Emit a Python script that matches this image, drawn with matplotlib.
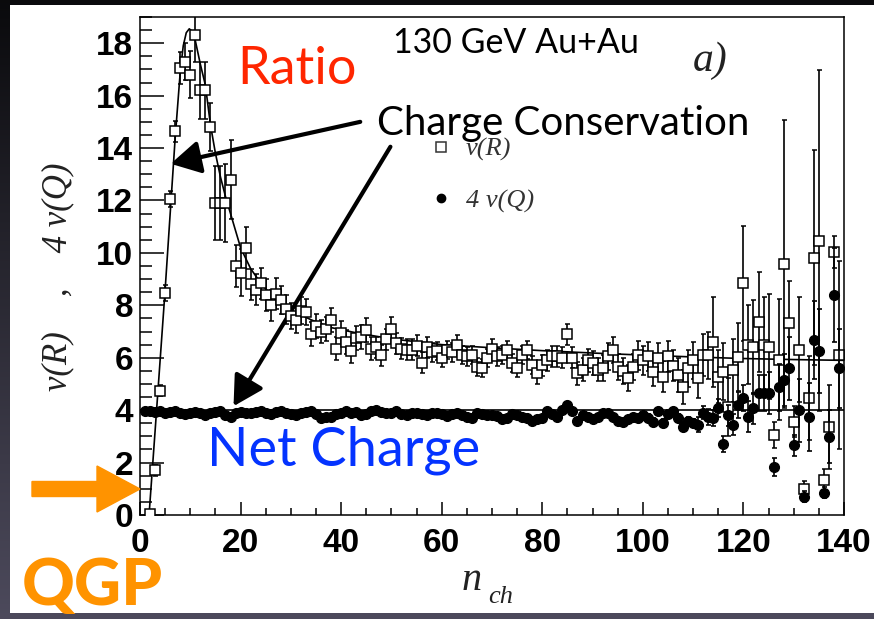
import numpy as np
import matplotlib
matplotlib.use("Agg")
import matplotlib.pyplot as plt
from matplotlib.patches import Rectangle, FancyArrow
from matplotlib.lines import Line2D
from matplotlib.ticker import MultipleLocator

# ---------------------------------------------------------
# Data
# ---------------------------------------------------------
n_R = list(range(2, 140))
v_R = [
    0.05, 1.7, 4.75, 8.47, 12.05, 14.65, 17.05, 17.3, 16.8, 18.3,
    16.2, 16.2, 14.8, 11.9, 11.9, 11.9, 12.8, 9.5, 9.25, 10.2,
    8.8, 8.6, 8.84, 8.4, 8.0, 8.45, 8.2, 7.85, 7.6, 7.45,
    7.8, 7.75, 6.9, 7.2, 7.0, 7.1, 7.45, 6.35, 6.95, 6.6,
    6.25, 6.75, 6.8, 7.05, 6.35, 6.4, 6.1, 6.7, 7.1, 6.55,
    6.35, 6.3, 6.3, 6.45, 5.8, 6.4, 6.2, 6.25, 5.98, 6.3,
    6.2, 6.5, 6.1, 6.05, 6.1, 5.65, 5.6, 6.0, 6.35, 6.05,
    6.1, 6.3, 5.8, 5.6, 6.1, 6.3, 5.72, 5.4, 5.72, 5.9,
    6.05, 6.05, 6.0, 6.9, 6.0, 5.4, 5.55, 5.9, 5.8, 5.55,
    5.6, 6.05, 6.3, 5.65, 5.5, 5.22, 5.65, 6.1, 5.9, 6.05,
    5.47, 5.98, 5.28, 6.05, 5.7, 5.34, 4.9, 5.6, 5.9, 5.22,
    6.1, 6.1, 6.6, 5.28, 5.47, 4.13, 5.53, 6.04, 8.84, 6.5,
    6.4, 7.36, 6.5, 6.42, 3.05, 5.93, 9.57, 7.32, 3.56, 6.3,
    1.0, 4.45, 9.82, 10.46, 1.34, 3.35, 10.03, 6.1,
]
v_R_err = [
    0.1, 0.2, 0.2, 0.3, 0.3, 0.4, 0.6, 0.7, 0.9, 1.0,
    1.1, 1.1, 0.9, 1.4, 1.4, 1.5, 1.5, 0.8, 0.9, 0.8,
    0.6, 0.6, 0.6, 0.6, 0.6, 0.6, 0.55, 0.55, 0.5, 0.5,
    0.5, 0.5, 0.45, 0.45, 0.45, 0.45, 0.45, 0.45, 0.45, 0.45,
    0.45, 0.45, 0.45, 0.45, 0.45, 0.4, 0.4, 0.4, 0.45, 0.4,
    0.4, 0.4, 0.4, 0.4, 0.4, 0.4, 0.35, 0.35, 0.35, 0.35,
    0.35, 0.35, 0.35, 0.35, 0.35, 0.35, 0.35, 0.35, 0.35, 0.35,
    0.35, 0.35, 0.35, 0.35, 0.35, 0.35, 0.35, 0.4, 0.4, 0.4,
    0.4, 0.4, 0.4, 0.4, 0.4, 0.45, 0.45, 0.45, 0.45, 0.45,
    0.5, 0.5, 0.5, 0.5, 0.5, 0.5, 0.5, 0.55, 0.55, 0.55,
    0.55, 0.6, 0.6, 0.6, 0.6, 0.65, 0.65, 0.7, 0.7, 0.75,
    0.8, 0.9, 1.7, 1.0, 1.1, 1.1, 1.2, 1.3, 2.2, 1.5,
    1.8, 1.9, 1.8, 2.0, 0.5, 2.3, 5.5, 1.6, 0.6, 2.0,
    0.3, 1.6, 4.1, 6.5, 0.4, 1.6, 0.6, 3.6,
]

n_Q = list(range(1, 140))
v_Q = [
    3.95, 3.97, 3.93, 3.96, 3.9, 3.92, 3.95, 3.9, 3.85, 3.88,
    3.93, 3.9, 3.8, 3.88, 3.92, 3.95, 3.8, 3.75, 3.9, 3.92,
    3.9, 3.88, 3.92, 3.95, 3.9, 3.85, 3.92, 3.96, 3.9, 3.85,
    3.8, 3.88, 3.92, 3.95, 3.85, 3.7, 3.75, 3.72, 3.85, 3.9,
    3.95, 3.88, 3.92, 3.8, 3.85, 3.95, 4.0, 3.92, 3.88, 3.9,
    3.95, 3.85, 3.8, 3.88, 3.9, 3.85, 3.82, 3.88, 3.9, 3.85,
    3.78, 3.85, 3.9, 3.82, 3.75, 3.7, 3.88, 3.85, 3.8, 3.82,
    3.78, 3.65, 3.7, 3.85, 3.8, 3.75, 3.7, 3.6, 3.65, 3.7,
    3.95, 3.85, 3.72, 4.0, 4.2, 3.95, 3.6, 3.8, 3.75, 3.65,
    3.75, 3.88, 3.9, 3.72, 3.6, 3.55, 3.65, 3.75, 3.7, 3.8,
    3.7, 3.55, 3.95, 3.5, 3.85, 3.95, 3.7, 3.35, 3.6, 3.5,
    3.45, 3.9, 3.75, 3.7, 4.08, 2.7, 3.8, 3.45, 4.2, 4.45,
    3.75, 4.07, 4.65, 4.65, 4.64, 1.84, 4.87, 5.15, 5.6, 2.67,
    4.0, 0.7, 3.75, 6.68, 6.26, 0.85, 2.99, 8.4, 5.6,
]
v_Q_err = [
    0.05, 0.05, 0.05, 0.05, 0.05, 0.05, 0.05, 0.05, 0.05, 0.05,
    0.05, 0.05, 0.05, 0.05, 0.05, 0.05, 0.05, 0.05, 0.05, 0.05,
    0.05, 0.05, 0.05, 0.05, 0.05, 0.05, 0.05, 0.05, 0.05, 0.05,
    0.05, 0.05, 0.05, 0.05, 0.05, 0.05, 0.05, 0.05, 0.05, 0.05,
    0.05, 0.05, 0.05, 0.05, 0.05, 0.05, 0.05, 0.05, 0.05, 0.05,
    0.08, 0.08, 0.08, 0.08, 0.08, 0.08, 0.08, 0.08, 0.08, 0.08,
    0.08, 0.08, 0.08, 0.08, 0.08, 0.08, 0.08, 0.08, 0.08, 0.08,
    0.08, 0.08, 0.08, 0.08, 0.08, 0.08, 0.08, 0.08, 0.08, 0.08,
    0.1, 0.1, 0.1, 0.1, 0.1, 0.1, 0.1, 0.1, 0.1, 0.1,
    0.1, 0.1, 0.1, 0.1, 0.1, 0.1, 0.1, 0.1, 0.1, 0.1,
    0.15, 0.15, 0.15, 0.15, 0.15, 0.15, 0.15, 0.15, 0.15, 0.15,
    0.3, 0.25, 0.3, 0.3, 0.35, 0.3, 0.4, 0.4, 0.5, 0.5,
    0.6, 0.6, 0.7, 0.7, 0.8, 0.35, 0.9, 1.0, 1.2, 0.4,
    1.2, 0.2, 1.3, 1.5, 1.6, 0.2, 1.0, 1.8, 1.5,
]

# fitted curve through v(R), read at these n values
fit_n = [1.8, 3, 4, 5, 6, 7, 8, 8.6, 9.2, 9.8, 10.4, 11, 12, 13, 14, 15, 16,
         17, 18, 20, 22, 24, 27, 30, 34, 38, 43, 50, 60, 70, 80, 90, 100,
         110, 120, 130, 140]
fit_R = [0.0, 3.2, 5.9, 8.6, 11.5, 14.4, 16.9, 17.9, 18.4, 18.55, 18.45,
         18.1, 17.2, 16.4, 14.9, 13.8, 12.9, 12.15, 11.5, 10.2, 9.4, 8.85,
         8.2, 7.82, 7.45, 7.15, 6.95, 6.72, 6.5, 6.38, 6.27, 6.18, 6.1,
         6.03, 5.97, 5.93, 5.9]
q_level = 4.0

x_ticks = [0, 20, 40, 60, 80, 100, 120, 140]
y_ticks = [0, 2, 4, 6, 8, 10, 12, 14, 16, 18]

W, H = 874, 619

# ---------------------------------------------------------
# Figure with dark slide background and white panel
# ---------------------------------------------------------
fig = plt.figure(figsize=(W / 100, H / 100), dpi=100)

bg = fig.add_axes([0, 0, 1, 1], zorder=-2)
grad = np.linspace(0, 1, 256)[:, None, None]
top_col = np.array([0.04, 0.04, 0.05])
bot_col = np.array([0.30, 0.29, 0.36])
img = top_col + (bot_col - top_col) * grad
bg.imshow(img, aspect="auto", extent=[0, 1, 0, 1], origin="upper")
bg.axis("off")

fig.add_artist(Rectangle((10 / W, 6 / H), 864 / W, 608 / H,
                         transform=fig.transFigure, facecolor="white",
                         edgecolor="none", zorder=-1))

ax = fig.add_axes([140 / W, 104 / H, 704 / W, 498 / H])

# ---------------------------------------------------------
# Data
# ---------------------------------------------------------
ax.plot(fit_n, fit_R, color="black", lw=1.2, zorder=2)
ax.axhline(q_level, color="black", lw=1.2, zorder=2)

ax.errorbar(n_R, v_R, yerr=v_R_err, fmt="s", ms=7, mfc="white", mec="black",
            mew=1.1, ecolor="black", elinewidth=1.2, capsize=1.8,
            capthick=1.2, zorder=3)
ax.errorbar(n_Q, v_Q, yerr=v_Q_err, fmt="o", ms=7, color="black",
            ecolor="black", elinewidth=1.2, capsize=1.8, capthick=1.2,
            zorder=4)

# ---------------------------------------------------------
# Axes styling
# ---------------------------------------------------------
ax.set_xlim(0, 140)
ax.set_ylim(0, 19)
ax.set_xticks(x_ticks)
ax.set_xticklabels([str(t) for t in x_ticks], fontweight="bold",
                   family="Liberation Sans")
ax.set_yticks(y_ticks)
ax.set_yticklabels([str(t) for t in y_ticks], fontweight="bold",
                   family="Liberation Sans")
ax.xaxis.set_minor_locator(MultipleLocator(5))
ax.yaxis.set_minor_locator(MultipleLocator(0.5))
ax.tick_params(axis="x", which="major", direction="in", length=9.5,
               width=1.1, labelsize=24, pad=9)
ax.tick_params(axis="x", which="minor", direction="in", length=5, width=1.1)
ax.tick_params(axis="y", which="major", direction="in", length=17,
               width=1.1, labelsize=24, pad=5)
ax.tick_params(axis="y", which="minor", direction="in", length=8.5,
               width=1.1)
for s in ax.spines.values():
    s.set_linewidth(1.1)

fig.text(58 / W, (H - 277) / H, "v(R)    ,    4 v(Q)", rotation=90,
         family="Liberation Serif", style="italic", size=25,
         ha="center", va="center", color="#222222")
fig.text(462 / W, (H - 590) / H, "n", family="Liberation Serif",
         style="italic", size=29, va="baseline", color="#222222")
fig.text(488 / W, (H - 603) / H, "ch", family="Liberation Serif",
         style="italic", size=19, va="baseline", color="#222222")

# legend
handles = [
    Line2D([], [], marker="s", ls="none", ms=7, mfc="white", mec="#333333",
           mew=1.1),
    Line2D([], [], marker="o", ls="none", ms=6, color="black"),
]
ax.legend(handles, ["v(R)", "4 v(Q)"], loc="upper left",
          bbox_to_anchor=(0.39, 0.785), frameon=False, borderpad=0,
          handlelength=1.0, handletextpad=0.45, labelspacing=1.05,
          prop={"family": "Liberation Serif", "style": "italic", "size": 19},
          labelcolor="#333333")

# ---------------------------------------------------------
# Slide annotations
# ---------------------------------------------------------
ax.text(50.4, 17.63, "130 GeV Au+Au", family="Lato", size=24.5,
        color="black", va="baseline", clip_on=False)
ax.text(110, 16.95, "a)", family="Liberation Serif", style="italic",
        size=30, color="#222222", va="baseline")
ax.text(19.4, 16.45, "Ratio", family="Lato", size=37.5, color="#ff2600",
        va="baseline")
ax.text(47.2, 14.5, "Charge Conservation", family="Lato", size=29,
        color="black", va="baseline")
ax.text(13.4, 1.9, "Net Charge", family="Lato", size=39, color="#0433ff",
        va="baseline")

arrow_style = dict(arrowstyle="-|>,head_length=0.9,head_width=0.5",
                   lw=3, color="black", mutation_scale=20,
                   shrinkA=0, shrinkB=0)
ax.annotate("", xy=(6.1, 13.4), xytext=(43.8, 15.0), arrowprops=arrow_style)
ax.annotate("", xy=(18.6, 4.15), xytext=(49.8, 14.05), arrowprops=arrow_style)

# QGP label and arrow pointing at the axis
fig.text(22 / W, (H - 605) / H, "QGP", family="Lato", weight="black",
         size=47, color="#ff9300", va="baseline")
fig.add_artist(FancyArrow(32 / W, (H - 489) / H, 108 / W, 0,
                          width=15 / H, head_width=46 / H,
                          head_length=43 / W, length_includes_head=True,
                          transform=fig.transFigure, color="#ff9300",
                          zorder=5))

fig.savefig("out.png", dpi=100)
